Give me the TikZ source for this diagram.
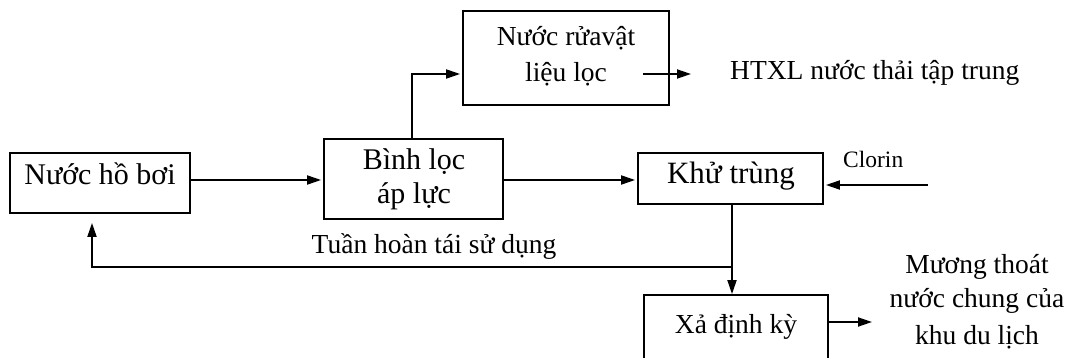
\documentclass[tikz,border=0pt]{standalone}
\usepackage{fontspec}
\setmainfont{Liberation Serif}
\usetikzlibrary{arrows.meta}

\begin{document}
\begin{tikzpicture}[x=1pt,y=-1pt,
  box/.style={draw, line width=1.8pt, inner sep=0pt},
  lbl/.style={anchor=base, inner sep=0pt, font=\fontsize{27.5}{33}\selectfont},
  big/.style={anchor=base, inner sep=0pt, font=\fontsize{30}{36}\selectfont},
  small/.style={anchor=base, inner sep=0pt, font=\fontsize{23.5}{28}\selectfont},
  arr/.style={line width=1.8pt, -{Triangle[length=14pt,width=9pt]}, shorten >=2pt},
  ln/.style={line width=1.8pt}]
\useasboundingbox (0,0) rectangle (1074,358);
\clip (0,0) rectangle (1074,358);

% process boxes
\node[box, minimum width=180pt, minimum height=60pt] (ho) at (100,183) {};
\node[box, minimum width=179pt, minimum height=80pt] (bl) at (413.5,179) {};
\node[box, minimum width=206pt, minimum height=94pt] (rw) at (566,58) {};
\node[box, minimum width=185pt, minimum height=51pt] (kt) at (730.5,178.5) {};
\node[box, minimum width=184pt, minimum height=90pt] (xa) at (736,340) {};

% box texts
\node[big] (tho) at (100,185) {Nước hồ bơi};
\node[big] (tbl1) at (414,170) {Bình lọc};
\node[big] (tbl2) at (414,204) {áp lực};
\node[lbl] (trw1) at (566,46) {Nước rửavật};
\node[lbl] (trw2) at (566,82) {liệu lọc};
\node[big, font=\fontsize{31}{37}\selectfont] (tkt) at (731,184) {Khử trùng};
\node[lbl] (txa) at (736,333) {Xả định kỳ};

% free texts
\node[lbl, anchor=base west] (htxl) at (730,80) {HTXL nước thải tập trung};
\node[small, anchor=base west] (clorin) at (843,168) {Clorin};
\node[lbl, anchor=base west] (tuan) at (311.5,254) {Tuần hoàn tái sử dụng};
\node[lbl] (mt1) at (977,273) {Mương thoát};
\node[lbl] (mt2) at (977,308) {nước chung của};
\node[lbl] (mt3) at (977,344) {khu du lịch};

% loose arrow ends
\coordinate (rwa) at (643,74);
\coordinate (rwb) at (691,74);
\coordinate (cl) at (928,185);
\coordinate (fb) at (732,267);
\coordinate (xo) at (872,322);

% connectors
\draw[arr] (ho.east |- 0,180) -- (bl.west |- 0,180);
\draw[arr] (bl.east |- 0,180) -- (kt.west |- 0,180);
\draw[arr] ([xshift=-1.5pt]bl.north) |- ([yshift=-16pt]rw.west);
\draw[arr, shorten >=0pt] (rwa) -- (rwb);
\draw[arr] (cl) -- (kt.east |- cl);
\draw[arr, shorten >=0pt] (kt.south -| fb) -- (xa.north -| fb);
\draw[arr, shorten >=9pt] (fb) -| ([xshift=-8pt]ho.south);
\draw[arr, shorten >=0pt] (xa.east |- xo) -- (xo);
\end{tikzpicture}
\end{document}
